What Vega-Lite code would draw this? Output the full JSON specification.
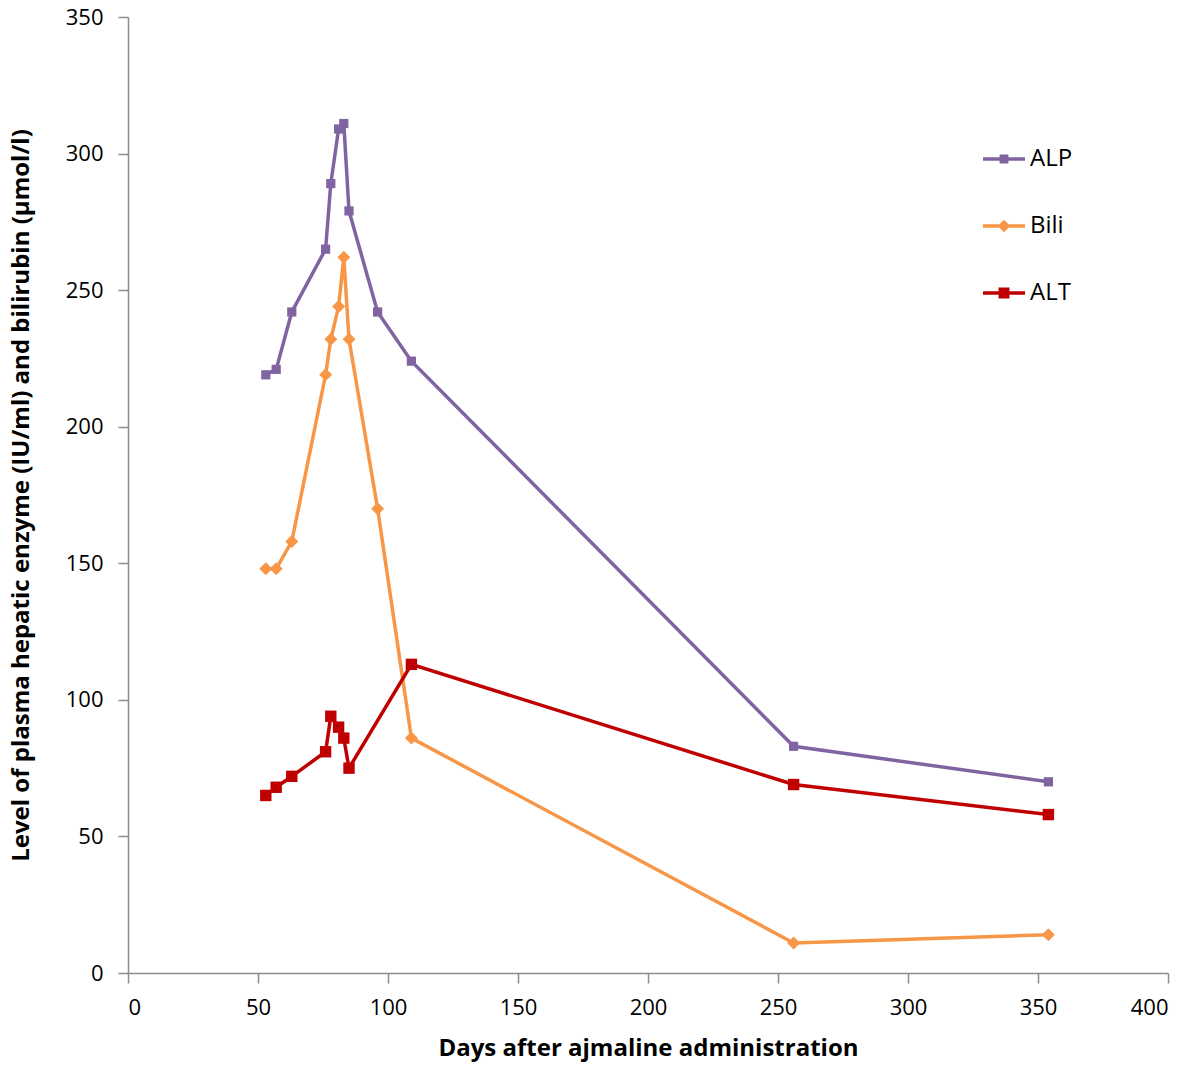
{
  "$schema": "https://vega.github.io/schema/vega-lite/v6.json",
  "autosize": {"type": "none"},
  "padding": {"left": 128, "top": 17, "right": 32, "bottom": 102},
  "width": 1040,
  "height": 956,
  "background": "white",
  "config": {
    "view": {"stroke": null},
    "font": "Open Sans",
    "axis": {
      "grid": false,
      "domainColor": "#8c8c8c",
      "tickColor": "#8c8c8c",
      "domainWidth": 1.5,
      "tickWidth": 1.5,
      "tickSize": 10,
      "labelFont": "Open Sans",
      "labelFontSize": 22,
      "labelColor": "#000000",
      "titleFont": "Open Sans",
      "titleFontSize": 24,
      "titleFontWeight": "bold",
      "titleColor": "#000000"
    }
  },
  "data": {
    "values": [
      {"day": 53, "value": 219, "series": "ALP"},
      {"day": 57, "value": 221, "series": "ALP"},
      {"day": 63, "value": 242, "series": "ALP"},
      {"day": 76, "value": 265, "series": "ALP"},
      {"day": 78, "value": 289, "series": "ALP"},
      {"day": 81, "value": 309, "series": "ALP"},
      {"day": 83, "value": 311, "series": "ALP"},
      {"day": 85, "value": 279, "series": "ALP"},
      {"day": 96, "value": 242, "series": "ALP"},
      {"day": 109, "value": 224, "series": "ALP"},
      {"day": 256, "value": 83, "series": "ALP"},
      {"day": 354, "value": 70, "series": "ALP"},
      {"day": 53, "value": 148, "series": "Bili"},
      {"day": 57, "value": 148, "series": "Bili"},
      {"day": 63, "value": 158, "series": "Bili"},
      {"day": 76, "value": 219, "series": "Bili"},
      {"day": 78, "value": 232, "series": "Bili"},
      {"day": 81, "value": 244, "series": "Bili"},
      {"day": 83, "value": 262, "series": "Bili"},
      {"day": 85, "value": 232, "series": "Bili"},
      {"day": 96, "value": 170, "series": "Bili"},
      {"day": 109, "value": 86, "series": "Bili"},
      {"day": 256, "value": 11, "series": "Bili"},
      {"day": 354, "value": 14, "series": "Bili"},
      {"day": 53, "value": 65, "series": "ALT"},
      {"day": 57, "value": 68, "series": "ALT"},
      {"day": 63, "value": 72, "series": "ALT"},
      {"day": 76, "value": 81, "series": "ALT"},
      {"day": 78, "value": 94, "series": "ALT"},
      {"day": 81, "value": 90, "series": "ALT"},
      {"day": 83, "value": 86, "series": "ALT"},
      {"day": 85, "value": 75, "series": "ALT"},
      {"day": 109, "value": 113, "series": "ALT"},
      {"day": 256, "value": 69, "series": "ALT"},
      {"day": 354, "value": 58, "series": "ALT"}
    ]
  },
  "encoding": {
    "x": {
      "field": "day", "type": "quantitative",
      "scale": {"domain": [0, 400], "nice": false},
      "axis": {"values": [0, 50, 100, 150, 200, 250, 300, 350, 400], "title": "Days after ajmaline administration", "labelPadding": 14, "titlePadding": 18}
    },
    "y": {
      "field": "value", "type": "quantitative",
      "scale": {"domain": [0, 350], "nice": false},
      "axis": {"values": [0, 50, 100, 150, 200, 250, 300, 350], "title": "Level of plasma hepatic enzyme (IU/ml) and bilirubin (µmol/l)", "labelPadding": 15, "titlePadding": 32}
    },
    "color": {
      "field": "series", "type": "nominal",
      "scale": {"domain": ["ALP", "Bili", "ALT"], "range": ["#8064A2", "#F79646", "#C00000"]},
      "legend": {
        "title": null,
        "orient": "none",
        "legendX": 855,
        "legendY": 121,
        "labelFont": "Open Sans",
        "labelFontSize": 24,
        "labelColor": "#000000",
        "labelOffset": 5,
        "rowPadding": 34,
        "symbolSize": 1764,
        "symbolStrokeWidth": 0,
        "symbolOpacity": 1,
        "encode": {
          "symbols": {
            "update": {
              "shape": {"signal": "datum.value === 'Bili' ? 'M-1,-0.08L1,-0.08L1,0.08L-1,0.08Z M0,-0.3L0.3,0L0,0.3L-0.3,0Z' : (datum.value === 'ALT' ? 'M-1,-0.08L1,-0.08L1,0.08L-1,0.08Z M-0.26,-0.26L0.26,-0.26L0.26,0.26L-0.26,0.26Z' : 'M-1,-0.08L1,-0.08L1,0.08L-1,0.08Z M-0.21,-0.21L0.21,-0.21L0.21,0.21L-0.21,0.21Z')"},
              "size": {"value": 1764},
              "strokeWidth": {"value": 0},
              "opacity": {"value": 1},
              "fill": {"scale": "color", "field": "value"}
            }
          }
        }
      }
    }
  },
  "layer": [
    {
      "mark": {"type": "line", "strokeWidth": 3.5},
      "encoding": {
        "detail": {"field": "series"}
      }
    },
    {
      "mark": {"type": "point", "filled": true, "opacity": 1, "strokeWidth": 0},
      "encoding": {
        "shape": {"condition": {"test": "datum.series === 'Bili'", "value": "diamond"}, "value": "square"},
        "size": {"condition": [{"test": "datum.series === 'Bili'", "value": 169}, {"test": "datum.series === 'ALT'", "value": 130}], "value": 85}
      }
    }
  ]
}
